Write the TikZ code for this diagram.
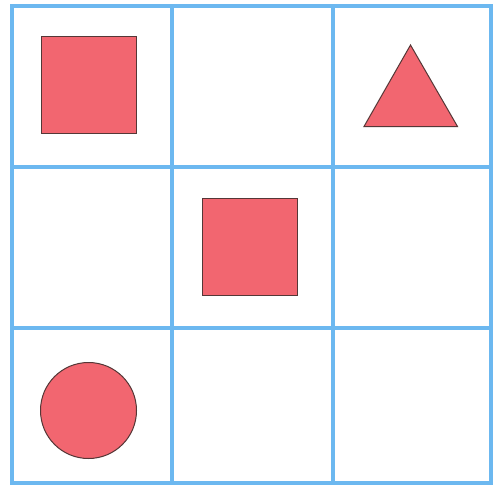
\documentclass[tikz,border=0pt]{standalone}
\begin{document}
\begin{tikzpicture}[x=1pt,y=-1pt,
  gridline/.style={draw=gridblue,line width=3.5pt},
  shapefill/.style={fill=shapered,draw=shapeedge,line width=1pt,line join=miter}]
\definecolor{gridblue}{RGB}{108,184,240}
\definecolor{shapered}{RGB}{242,102,112}
\definecolor{shapeedge}{RGB}{85,55,55}
\useasboundingbox (0,0) rectangle (494,487);
\fill[white] (0,0) rectangle (494,487);
% grid
\foreach \x in {12,172,333,491} \draw[gridline] (\x,4.25) -- (\x,484.75);
\foreach \y in {6,167,328,483} \draw[gridline] (10.25,\y) -- (492.75,\y);
% shapes
\draw[shapefill] (41,37) rectangle (136,133);
\draw[shapefill] (202,198.5) rectangle (297,295);
\draw[shapefill] (410.5,45) -- (457.5,126.5) -- (364,126.5) -- cycle;
\draw[shapefill] (88.5,410.5) circle (48);
\end{tikzpicture}
\end{document}
